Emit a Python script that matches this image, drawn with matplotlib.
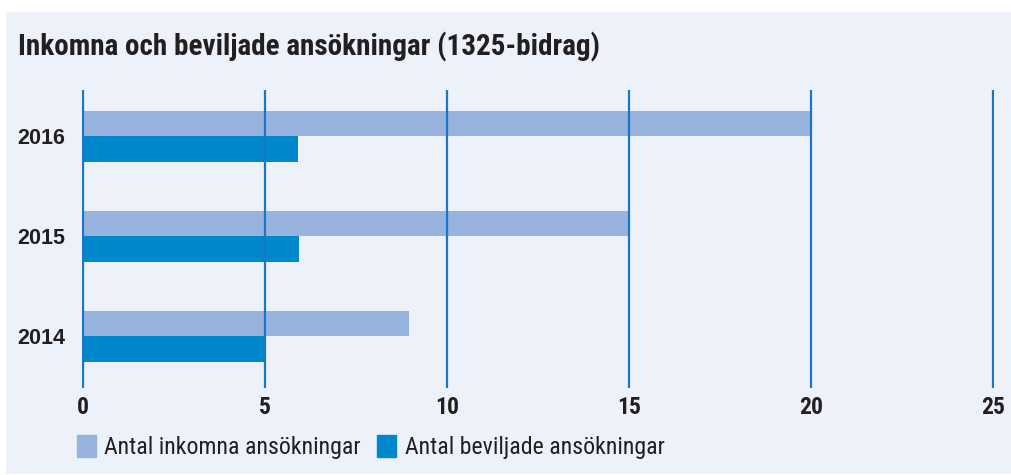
"""Inkomna och beviljade ansökningar (1325-bidrag) – liggande stapeldiagram."""
import matplotlib
matplotlib.use("Agg")
import matplotlib.pyplot as plt  # noqa: E402
from matplotlib.patches import Patch, Rectangle  # noqa: E402
import numpy as np  # noqa: E402

years = ["2014", "2015", "2016"]
inkomna = [8.95, 15, 20]
beviljade = [5, 5.95, 5.9]
xticks = [0, 5, 10, 15, 20, 25]

LIGHT = "#98b3dd"
DARK = "#0088cc"
GRID = "#1a76c6"
BG = "#edf2fa"
TXT = "#231f20"
COND = ["Roboto Condensed", "DejaVu Sans"]
WIDE = ["Liberation Sans", "DejaVu Sans"]
plt.rcParams["font.family"] = COND

fig = plt.figure(figsize=(10.12, 4.75), dpi=100, facecolor="white")
fig.patches.append(Rectangle((6 / 1012, 1 / 475), 1 - 6 / 1012, 1 - 13 / 475,
                             transform=fig.transFigure, facecolor=BG, edgecolor="none", zorder=-5))

ax = fig.add_axes([82 / 1012, 1 - 388 / 475, (994 - 82) / 1012, (388 - 90) / 475])
ax.set_facecolor("none")
y = np.arange(len(years))
h = 0.255
ax.barh(y + h / 2, inkomna, height=h, color=LIGHT, zorder=2)
ax.barh(y - h / 2, beviljade, height=h, color=DARK, zorder=2)
for v in xticks:
    ax.axvline(v, color=GRID, lw=1.6, zorder=3)

ax.set_xlim(-0.02, 25.02)
ax.set_ylim(-0.52, 2.46)
ax.set_xticks(xticks)
ax.set_xticklabels([str(v) for v in xticks], fontsize=17, fontweight="bold", color=TXT, family=COND)
ax.set_yticks(y)
ax.set_yticklabels(years, fontsize=15.5, fontweight="bold", color=TXT, family=WIDE)
ax.tick_params(length=0, axis="x", pad=5.5)
ax.tick_params(length=0, axis="y", pad=12)
for s in ax.spines.values():
    s.set_visible(False)

fig.text(18 / 1012, 1 - 47 / 475, "Inkomna och beviljade ansökningar (1325-bidrag)",
         fontsize=21, fontweight="bold", color=TXT, va="center", ha="left", family=COND)

handles = [Patch(color=LIGHT, label="Antal inkomna ansökningar"),
           Patch(color=DARK, label="Antal beviljade ansökningar")]
fig.legend(handles=handles, loc="center left", bbox_to_anchor=(77 / 1012, 1 - 447 / 475),
           ncol=2, frameon=False, prop={"family": COND, "size": 17.2}, labelcolor=TXT,
           borderpad=0, borderaxespad=0,
           handlelength=0.8, handleheight=1.05, handletextpad=0.35, columnspacing=0.68)

fig.savefig("out.png", dpi=100, facecolor=fig.get_facecolor())
